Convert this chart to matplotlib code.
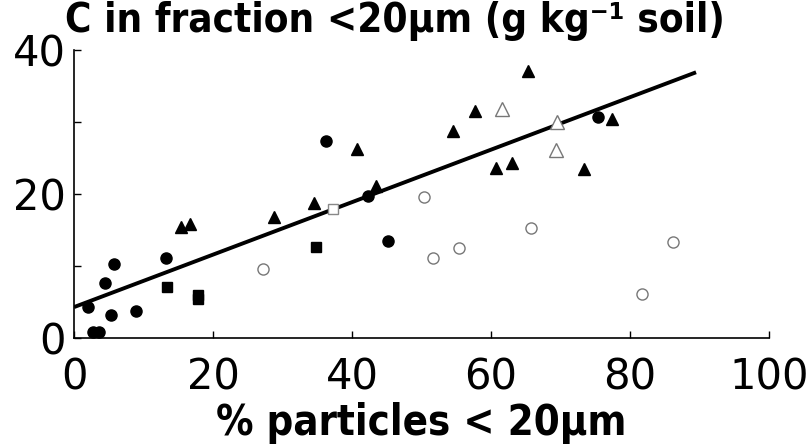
import matplotlib
matplotlib.use("Agg")
import matplotlib.pyplot as plt

# ---- data ----
filled_circle_x = [2.0, 2.8, 3.6, 4.4, 5.7, 5.3, 8.9, 13.2, 36.3, 42.3, 45.2, 75.4]
filled_circle_y = [4.3, 0.9, 0.9, 7.6, 10.3, 3.2, 3.7, 11.1, 27.4, 19.7, 13.5, 30.7]

filled_square_x = [13.4, 17.8, 17.8, 34.8]
filled_square_y = [7.1, 6.0, 5.4, 12.6]

open_square_x = [37.3]
open_square_y = [17.9]

filled_tri_x = [15.4, 16.7, 28.8, 34.5, 40.7, 43.5, 54.5, 57.7, 60.7, 63.0, 65.3, 73.4, 77.4]
filled_tri_y = [15.4, 15.9, 16.8, 18.7, 26.3, 21.1, 28.8, 31.5, 23.6, 24.3, 37.1, 23.5, 30.4]

open_tri_x = [61.6, 69.5, 69.4]
open_tri_y = [31.8, 30.0, 26.1]

open_circle_x = [27.2, 50.4, 51.7, 55.4, 65.7, 81.7, 86.2]
open_circle_y = [9.6, 19.6, 11.1, 12.5, 15.3, 6.1, 13.3]

fit_x = [0, 89.5]
fit_y = [4.3, 36.9]

x_ticks = [0, 20, 40, 60, 80, 100]
y_ticks = [0, 10, 20, 30, 40]
y_ticklabels = ["0", "", "20", "", "40"]

plt.rcParams["font.family"] = ["DejaVu Sans"]

fig = plt.figure(figsize=(8.1, 4.46), dpi=100)
ax = fig.add_axes([0.0914, 0.242, 0.858, 0.646])

ms = 8
ax.plot(fit_x, fit_y, color="black", lw=2.8, zorder=3, solid_capstyle="butt")
ax.plot(filled_circle_x, filled_circle_y, "o", ms=ms, color="black", zorder=4)
ax.plot(filled_square_x, filled_square_y, "s", ms=ms - 1, color="black", zorder=4)
ax.plot(filled_tri_x, filled_tri_y, "^", ms=ms + 1, color="black", zorder=4)
ax.plot(open_square_x, open_square_y, "s", ms=ms - 1, mfc="white", mec="#888888",
        mew=1.0, zorder=4)
ax.plot(open_tri_x, open_tri_y, "^", ms=ms + 2, mfc="white", mec="#777777",
        mew=1.0, zorder=4)
ax.plot(open_circle_x, open_circle_y, "o", ms=ms, mfc="white", mec="#777777",
        mew=1.0, zorder=4)

ax.set_xlim(0, 100)
ax.set_ylim(0, 40)
ax.spines["top"].set_visible(False)
ax.spines["right"].set_visible(False)
for s in ("left", "bottom"):
    ax.spines[s].set_linewidth(1.2)

ax.set_xticks(x_ticks)
ax.set_yticks(y_ticks)
ax.set_yticklabels(y_ticklabels)
ax.tick_params(axis="x", direction="in", length=5, width=1.0, labelsize=30, pad=13)
ax.tick_params(axis="y", direction="in", length=5, width=1.0, labelsize=30, pad=6)

ax.set_xlabel("% particles < 20µm", fontsize=30, fontweight="bold",
              fontstretch="condensed", labelpad=3)
fig.text(0.488, 0.952, "C in fraction <20µm (g kg⁻¹ soil)",
         ha="center", va="center", fontsize=29, fontweight="bold",
         fontstretch="condensed")

fig.savefig("out.png", dpi=100)
